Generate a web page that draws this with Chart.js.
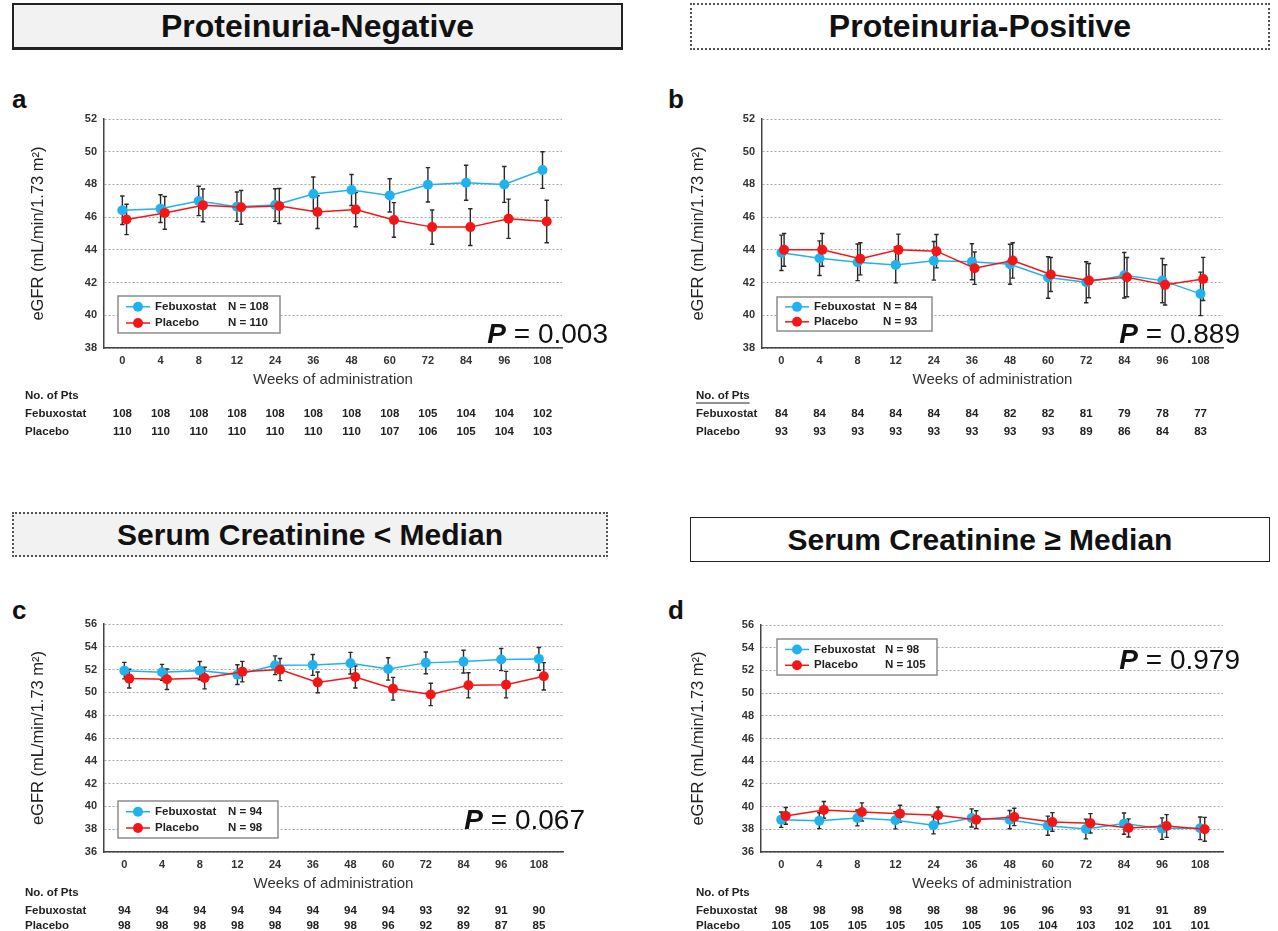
<!DOCTYPE html>
<html>
<head>
<meta charset="utf-8">
<script src="https://cdn.jsdelivr.net/npm/chart.js@4.4.0/dist/chart.umd.min.js"></script>
<style>
  body { margin: 0; background: #fff; width: 1278px; height: 931px; overflow: hidden; position: relative;
         font-family: "Liberation Sans", Arial, sans-serif; color: #111; }
  .head { position: absolute; box-sizing: border-box; display: flex; align-items: center; justify-content: center;
          font-weight: bold; color: #111; }
  .tag { position: absolute; font-weight: bold; font-size: 26px; line-height: 26px; color: #111; }
  canvas { position: absolute; }
</style>
</head>
<body>
<div class="head" style="left:12px;top:3px;width:611px;height:47px;border:2px solid #222;border-bottom-width:3px;background:#f2f2f2;font-size:32px">Proteinuria-Negative</div>
<div class="head" style="left:690px;top:3px;width:580px;height:47px;border:2px dotted #555;background:#fff;font-size:32px">Proteinuria-Positive</div>
<div class="head" style="left:12px;top:512px;width:596px;height:45px;border:2px dotted #555;background:#f2f2f2;font-size:30px">Serum Creatinine &lt; Median</div>
<div class="head" style="left:690px;top:517px;width:580px;height:45px;border:1.5px solid #222;background:#fff;font-size:30px">Serum Creatinine ≥ Median</div>

<div class="tag" style="left:12px;top:86px">a</div>
<div class="tag" style="left:668px;top:86px">b</div>
<div class="tag" style="left:12px;top:597px">c</div>
<div class="tag" style="left:668px;top:597px">d</div>

<canvas id="pa" width="639" height="385" style="left:0;top:60px"></canvas>
<canvas id="pb" width="639" height="385" style="left:639px;top:60px"></canvas>
<canvas id="pc" width="639" height="366" style="left:0;top:565px"></canvas>
<canvas id="pd" width="639" height="366" style="left:639px;top:565px"></canvas>

<script>
// weeks of administration
const weeks = ['0', '4', '8', '12', '24', '36', '48', '60', '72', '84', '96', '108'];
const groups = ['Febuxostat', 'Placebo'];

// a: proteinuria-negative
const negFebMean = [46.42, 46.52, 46.99, 46.64, 46.74, 47.42, 47.66, 47.33, 47.98, 48.10, 48.00, 48.88];
const negFebSe   = [0.87, 0.85, 0.90, 0.90, 1.00, 1.03, 0.95, 1.02, 1.05, 1.07, 1.10, 1.12];
const negPlaMean = [45.86, 46.26, 46.72, 46.60, 46.68, 46.31, 46.46, 45.83, 45.39, 45.39, 45.90, 45.73];
const negPlaSe   = [0.93, 1.00, 1.00, 1.03, 1.07, 1.00, 1.05, 1.06, 1.05, 1.12, 1.20, 1.30];
const negFebPts  = [108, 108, 108, 108, 108, 108, 108, 108, 105, 104, 104, 102];
const negPlaPts  = [110, 110, 110, 110, 110, 110, 110, 107, 106, 105, 104, 103];
const negN = [108, 110];

// b: proteinuria-positive
const posFebMean = [43.82, 43.49, 43.24, 43.08, 43.33, 43.27, 43.12, 42.31, 42.02, 42.45, 42.12, 41.31];
const posFebSe   = [1.08, 1.06, 1.12, 1.10, 1.18, 1.10, 1.22, 1.27, 1.25, 1.39, 1.35, 1.33];
const posPlaMean = [44.00, 44.00, 43.45, 44.00, 43.92, 42.88, 43.35, 42.49, 42.12, 42.33, 41.86, 42.22];
const posPlaSe   = [1.00, 1.00, 0.98, 0.96, 1.02, 0.99, 1.08, 1.04, 1.05, 1.20, 1.23, 1.32];
const posFebPts  = [84, 84, 84, 84, 84, 84, 82, 82, 81, 79, 78, 77];
const posPlaPts  = [93, 93, 93, 93, 93, 93, 93, 93, 89, 86, 84, 83];
const posN = [84, 93];

// c: serum creatinine < median
const lowFebMean = [51.91, 51.76, 51.91, 51.56, 52.38, 52.41, 52.56, 52.06, 52.59, 52.70, 52.88, 52.94];
const lowFebSe   = [0.72, 0.70, 0.80, 0.87, 0.82, 0.92, 0.95, 0.98, 0.95, 1.00, 0.97, 1.00];
const lowPlaMean = [51.21, 51.15, 51.26, 51.82, 52.00, 50.88, 51.35, 50.32, 49.82, 50.62, 50.68, 51.41];
const lowPlaSe   = [0.82, 0.90, 0.95, 0.90, 0.97, 0.91, 0.97, 1.00, 0.98, 1.10, 1.16, 1.20];
const lowFebPts  = [94, 94, 94, 94, 94, 94, 94, 94, 93, 92, 91, 90];
const lowPlaPts  = [98, 98, 98, 98, 98, 98, 98, 96, 92, 89, 87, 85];
const lowN = [94, 98];

// d: serum creatinine >= median
const highFebMean = [38.85, 38.76, 39.00, 38.79, 38.35, 39.00, 38.85, 38.32, 38.03, 38.50, 38.06, 38.09];
const highFebSe   = [0.68, 0.70, 0.70, 0.75, 0.75, 0.80, 0.80, 0.84, 0.87, 0.93, 0.95, 1.00];
const highPlaMean = [39.18, 39.71, 39.53, 39.38, 39.24, 38.85, 39.09, 38.65, 38.53, 38.12, 38.29, 38.00];
const highPlaSe   = [0.74, 0.74, 0.80, 0.74, 0.72, 0.78, 0.77, 0.82, 0.85, 0.80, 1.00, 1.05];
const highFebPts  = [98, 98, 98, 98, 98, 98, 96, 96, 93, 91, 91, 89];
const highPlaPts  = [105, 105, 105, 105, 105, 105, 105, 104, 103, 102, 101, 101];
const highN = [98, 105];

const pValues = ['0.003', '0.889', '0.067', '0.979'];

const FONT = '"Liberation Sans", Arial, sans-serif';
const BLUE = '#20b2ee';
const RED = '#f41616';
Chart.defaults.font.family = FONT;

// error bars, legend box, P value and patient table
const extras = {
  id: 'extras',
  beforeDatasetsDraw(chart) {
    const ctx = chart.ctx;
    const y = chart.scales.y;
    ctx.save();
    ctx.strokeStyle = '#2a2a2a';
    ctx.lineWidth = 1.4;
    chart.data.datasets.forEach((ds, i) => {
      const meta = chart.getDatasetMeta(i);
      ds.se.forEach((se, j) => {
        const px = meta.data[j].x;
        const v = ds.data[j].y;
        const t = y.getPixelForValue(v + se);
        const b = y.getPixelForValue(v - se);
        ctx.beginPath();
        ctx.moveTo(px, t); ctx.lineTo(px, b);
        ctx.moveTo(px - 2.2, t); ctx.lineTo(px + 2.2, t);
        ctx.moveTo(px - 2.2, b); ctx.lineTo(px + 2.2, b);
        ctx.stroke();
      });
    });
    ctx.restore();
  },
  afterDraw(chart, args, o) {
    const ctx = chart.ctx;
    const x = chart.scales.x;
    ctx.save();

    // legend
    const L = o.legend;
    ctx.fillStyle = '#fff';
    ctx.fillRect(L.x, L.y, L.w, L.h);
    ctx.strokeStyle = '#8c8c8c';
    ctx.lineWidth = 1.5;
    ctx.strokeRect(L.x, L.y, L.w, L.h);
    chart.data.datasets.forEach((ds, i) => {
      const ry = L.y + L.h * (i === 0 ? 0.29 : 0.73);
      ctx.strokeStyle = ds.borderColor;
      ctx.lineWidth = 1.5;
      ctx.beginPath();
      ctx.moveTo(L.x + 8, ry); ctx.lineTo(L.x + 32, ry);
      ctx.stroke();
      ctx.fillStyle = ds.borderColor;
      ctx.beginPath();
      ctx.arc(L.x + 20, ry, 5, 0, Math.PI * 2);
      ctx.fill();
      ctx.fillStyle = '#222';
      ctx.font = 'bold 11.5px ' + FONT;
      ctx.textAlign = 'left';
      ctx.textBaseline = 'middle';
      ctx.fillText(ds.label, L.x + 37, ry);
      ctx.fillText('N = ' + o.n[i], L.x + L.nx, ry);
    });

    // P value
    ctx.textBaseline = 'alphabetic';
    ctx.fillStyle = '#111';
    ctx.font = '28px ' + FONT;
    const rest = ' = ' + o.p;
    const wr = ctx.measureText(rest).width;
    ctx.font = 'bold italic 28px ' + FONT;
    const wp = ctx.measureText('P').width;
    ctx.fillText('P', o.pRight - wr - wp, o.pBase);
    ctx.font = '28px ' + FONT;
    ctx.fillText(rest, o.pRight - wr, o.pBase);

    // number of patients
    ctx.fillStyle = '#222';
    ctx.font = 'bold 11.5px ' + FONT;
    ctx.textBaseline = 'middle';
    ctx.textAlign = 'left';
    ctx.fillText('No. of Pts', o.tableX, o.rows[0]);
    if (o.underline) {
      const w = ctx.measureText('No. of Pts').width;
      ctx.strokeStyle = '#222';
      ctx.lineWidth = 1;
      ctx.beginPath();
      ctx.moveTo(o.tableX, o.rows[0] + 7); ctx.lineTo(o.tableX + w, o.rows[0] + 7);
      ctx.stroke();
    }
    ctx.fillText(groups[0], o.tableX, o.rows[1]);
    ctx.fillText(groups[1], o.tableX, o.rows[2]);
    ctx.textAlign = 'center';
    o.febPts.forEach((n, j) => ctx.fillText(n, x.getPixelForValue(j), o.rows[1]));
    o.plaPts.forEach((n, j) => ctx.fillText(n, x.getPixelForValue(j), o.rows[2]));
    ctx.restore();
  }
};

function makePanel(id, P) {
  const canvas = document.getElementById(id);
  const W = canvas.width, H = canvas.height;
  const tickFont = { size: 11, weight: 'bold' };
  new Chart(canvas, {
    type: 'line',
    data: {
      datasets: [
        {
          label: groups[0],
          data: P.feb.map((v, i) => ({ x: i, y: v })),
          se: P.febSe,
          borderColor: BLUE, backgroundColor: BLUE,
          pointBackgroundColor: BLUE, pointBorderColor: BLUE,
          borderWidth: 1.5, pointRadius: 5, pointBorderWidth: 0,
          tension: 0, order: 1,
        },
        {
          label: groups[1],
          data: P.pla.map((v, i) => ({ x: i + P.shift, y: v })),
          se: P.plaSe,
          borderColor: RED, backgroundColor: RED,
          pointBackgroundColor: RED, pointBorderColor: RED,
          borderWidth: 1.5, pointRadius: 5, pointBorderWidth: 0,
          tension: 0, order: 0,
        },
      ],
    },
    options: {
      responsive: false,
      animation: false,
      events: [],
      layout: { padding: { left: 0, top: P.top, right: W - P.right, bottom: H - P.bottom - 44 } },
      plugins: {
        legend: { display: false },
        tooltip: { enabled: false },
        extras: {
          legend: P.legend, n: P.n, p: P.p, pRight: P.pRight, pBase: P.pBase,
          febPts: P.febPts, plaPts: P.plaPts, tableX: P.tableX, rows: P.rows, underline: P.underline,
        },
      },
      scales: {
        x: {
          type: 'linear',
          min: P.xMin,
          max: P.xMax,
          afterBuildTicks: (ax) => { ax.ticks = weeks.map((w, i) => ({ value: i })); },
          afterFit: (ax) => { ax.height = 44; },
          grid: { display: false, drawTicks: false },
          border: { display: true, color: '#444', width: 1.5 },
          ticks: { padding: 6, color: '#333', font: tickFont, autoSkip: false, maxRotation: 0,
                   callback: (v, i) => weeks[i] },
          title: { display: true, text: 'Weeks of administration', color: '#333',
                   font: { size: 15 }, padding: { top: 0, bottom: 3 } },
        },
        y: {
          min: P.yMin,
          max: P.yMax,
          afterFit: (ax) => { ax.width = P.left; },
          grid: { color: '#a8a8a8', lineWidth: 1, drawTicks: false },
          border: { display: true, color: '#444', width: 1.5, dash: [2, 2] },
          ticks: { stepSize: 2, padding: 7, color: '#333', font: tickFont },
          title: { display: true, text: 'eGFR (mL/min/1.73 m²)', color: '#222',
                   font: { size: 16.5 }, padding: { top: P.yTitleX - 9.9, bottom: 0 } },
        },
      },
    },
    plugins: [extras],
  });
}

makePanel('pa', {
  feb: negFebMean, febSe: negFebSe, pla: negPlaMean, plaSe: negPlaSe,
  febPts: negFebPts, plaPts: negPlaPts, n: negN, p: pValues[0],
  yMin: 38, yMax: 52, left: 104, right: 562, top: 59, bottom: 288,
  xMin: -0.48, xMax: 11.51, shift: 0.11, yTitleX: 38,
  legend: { x: 118, y: 236, w: 162, h: 37, nx: 110 },
  pRight: 608, pBase: 283, tableX: 25, rows: [336, 354, 372], underline: false,
});

makePanel('pb', {
  feb: posFebMean, febSe: posFebSe, pla: posPlaMean, plaSe: posPlaSe,
  febPts: posFebPts, plaPts: posPlaPts, n: posN, p: pValues[1],
  yMin: 38, yMax: 52, left: 123, right: 584, top: 59, bottom: 288,
  xMin: -0.51, xMax: 11.59, shift: 0.07, yTitleX: 59,
  legend: { x: 138, y: 237, w: 155, h: 34, nx: 106 },
  pRight: 601, pBase: 283, tableX: 57, rows: [336, 354, 372], underline: true,
});

makePanel('pc', {
  feb: lowFebMean, febSe: lowFebSe, pla: lowPlaMean, plaSe: lowPlaSe,
  febPts: lowFebPts, plaPts: lowPlaPts, n: lowN, p: pValues[2],
  yMin: 36, yMax: 56, left: 104, right: 563, top: 59, bottom: 287,
  xMin: -0.54, xMax: 11.64, shift: 0.13, yTitleX: 38,
  legend: { x: 118, y: 236, w: 160, h: 37, nx: 110 },
  pRight: 585, pBase: 264, tableX: 25, rows: [328, 346, 361], underline: false,
});

makePanel('pd', {
  feb: highFebMean, febSe: highFebSe, pla: highPlaMean, plaSe: highPlaSe,
  febPts: highFebPts, plaPts: highPlaPts, n: highN, p: pValues[3],
  yMin: 36, yMax: 56, left: 122, right: 584, top: 60, bottom: 287,
  xMin: -0.53, xMax: 11.6, shift: 0.12, yTitleX: 59,
  legend: { x: 138, y: 74, w: 160, h: 36, nx: 108 },
  pRight: 601, pBase: 104, tableX: 57, rows: [328, 346, 361], underline: false,
});
</script>
</body>
</html>
